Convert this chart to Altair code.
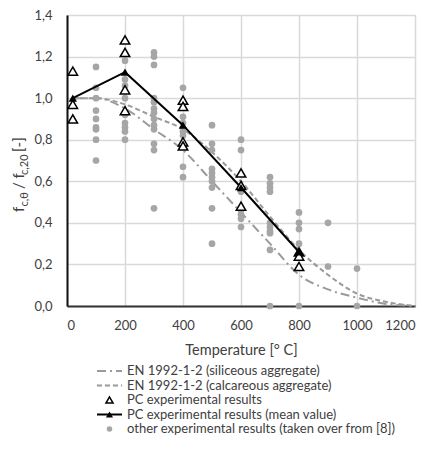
import altair as alt
import pandas as pd

# ---------------- data ----------------
en_temp = [20, 100, 200, 300, 400, 500, 600, 700, 800, 900, 1000, 1100, 1200]
en_siliceous = [1.0, 1.0, 0.95, 0.85, 0.75, 0.60, 0.45, 0.30, 0.15, 0.08, 0.04, 0.01, 0.0]
en_calcareous = [1.0, 1.0, 0.97, 0.91, 0.85, 0.74, 0.60, 0.43, 0.27, 0.15, 0.06, 0.02, 0.0]

pc_temp = [20, 20, 20, 200, 200, 200, 200, 400, 400, 400, 400, 600, 600, 600, 800, 800, 800]
pc_ratio = [1.13, 0.97, 0.90, 1.28, 1.22, 1.04, 0.94, 0.99, 0.96, 0.79, 0.77,
            0.64, 0.58, 0.48, 0.26, 0.24, 0.19]

mean_temp = [20, 200, 400, 600, 800]
mean_ratio = [1.0, 1.125, 0.87, 0.57, 0.26]

other_groups = {
    100: [1.15, 1.05, 1.00, 0.94, 0.90, 0.86, 0.85, 0.80, 0.70],
    200: [1.18, 1.09, 1.06, 1.00, 0.92, 0.88, 0.86, 0.84, 0.80],
    300: [1.22, 1.20, 1.16, 1.00, 0.98, 0.95, 0.93, 0.90, 0.87, 0.85, 0.78, 0.75, 0.47],
    400: [1.05, 0.91, 0.88, 0.84, 0.82, 0.67, 0.62],
    500: [0.87, 0.78, 0.75, 0.66, 0.64, 0.62, 0.60, 0.57, 0.47, 0.30],
    600: [0.80, 0.75, 0.55, 0.46, 0.44, 0.42, 0.38],
    700: [0.62, 0.59, 0.57, 0.55, 0.40, 0.38, 0.36, 0.35, 0.27, 0.00],
    800: [0.45, 0.40, 0.37, 0.30, 0.00],
    900: [0.40, 0.19],
    1000: [0.18, 0.00],
}

x_ticks = [0, 200, 400, 600, 800, 1000, 1200]
y_ticks = [0.0, 0.2, 0.4, 0.6, 0.8, 1.0, 1.2, 1.4]

legend_labels = [
    "EN 1992-1-2 (siliceous aggregate)",
    "EN 1992-1-2 (calcareous aggregate)",
    "PC experimental results",
    "PC experimental results (mean value)",
    "other experimental results (taken over from [8])",
]

# ---------------- tables ----------------
df_sil = pd.DataFrame({"T": en_temp, "r": en_siliceous})
df_cal = pd.DataFrame({"T": en_temp, "r": en_calcareous})
df_pc = pd.DataFrame({"T": pc_temp, "r": pc_ratio})
df_mean = pd.DataFrame({"T": mean_temp, "r": mean_ratio})
o_t, o_r = [], []
for t, vals in other_groups.items():
    for v in vals:
        o_t.append(t)
        o_r.append(v)
df_other = pd.DataFrame({"T": o_t, "r": o_r})
one = pd.DataFrame({"k": [0]})

FONT = "Lato"
TXT = "#404040"
GREY = "#a6a6a6"
LGREY = "#9a9a9a"

W, H = 348, 291

xs = alt.Scale(domain=[0, 1200], nice=False)
ys = alt.Scale(domain=[0, 1.4], nice=False)

x_axis = alt.Axis(values=x_ticks, format="d", title="Temperature [° C]", ticks=False,
                  labelPadding=13, titlePadding=11, grid=True, gridColor="#d9d9d9",
                  gridWidth=1.5, domainColor="#333333", domainWidth=2,
                  labelFont=FONT, labelFontSize=13, labelColor=TXT,
                  titleFont=FONT, titleFontSize=14.5, titleFontWeight="normal", titleColor=TXT)
y_axis = alt.Axis(values=y_ticks, labelExpr="replace(format(datum.value, '.1f'), '.', ',')",
                  title=None, ticks=False, labelPadding=15, grid=True, gridColor="#d9d9d9",
                  gridWidth=1.5, domainColor="#111111", domainWidth=2,
                  labelFont=FONT, labelFontSize=13, labelColor=TXT)

X = alt.X("T:Q", scale=xs, axis=x_axis)
Y = alt.Y("r:Q", scale=ys, axis=y_axis)
Xn = alt.X("T:Q", scale=xs)
Yn = alt.Y("r:Q", scale=ys)

sil = alt.Chart(df_sil).mark_line(interpolate="monotone", color=LGREY, strokeWidth=2,
                                  strokeDash=[9, 4, 2, 4]).encode(x=X, y=Y)
cal = alt.Chart(df_cal).mark_line(interpolate="monotone", color=LGREY, strokeWidth=2,
                                  strokeDash=[5, 3]).encode(x=Xn, y=Yn)
other = alt.Chart(df_other).mark_circle(size=45, color=GREY, opacity=1).encode(x=Xn, y=Yn)
mean_line = alt.Chart(df_mean).mark_line(color="black", strokeWidth=2).encode(x=Xn, y=Yn)
mean_pts = alt.Chart(df_mean).mark_point(shape="triangle-up", filled=True, color="black",
                                         size=70, opacity=1).encode(x=Xn, y=Yn)
pc_pts = alt.Chart(df_pc).mark_point(shape="triangle-up", filled=True, fill="white",
                                     stroke="black", strokeWidth=1.5, size=90,
                                     opacity=1).encode(x=Xn, y=Yn)

layers = [sil, cal, other, mean_line, pc_pts, mean_pts]

# ---------------- y axis title with subscripts ----------------
def vtext(txt, x, y, size):
    return alt.Chart(one).mark_text(angle=270, align="left", baseline="alphabetic",
                                    font=FONT, fontSize=size, color=TXT, text=txt).encode(
        x=alt.value(x), y=alt.value(y))

MX, SX = -43, -39
title_parts = [("f", MX, 197, 15), ("c,θ", SX, 191.5, 11), ("/ f", MX, 174, 15),
               ("c,20", SX, 160, 11), ("[-]", MX, 137, 15)]
for t, x, y, s in title_parts:
    layers.append(vtext(t, x, y, s))

# ---------------- legend ----------------
LY0, LDY = 356, 14.5
sx0, sx1, scx, tx = 30, 55, 42.5, 60

def lrule(y, dash=None, color=LGREY):
    kw = dict(color=color, strokeWidth=2)
    if dash:
        kw["strokeDash"] = dash
    return alt.Chart(one).mark_rule(**kw).encode(
        x=alt.value(sx0), x2=alt.value(sx1), y=alt.value(y))

for i, lab in enumerate(legend_labels):
    y = LY0 + i * LDY
    layers.append(alt.Chart(one).mark_text(align="left", baseline="middle", font=FONT,
                                           fontSize=13, color=TXT, text=lab).encode(
        x=alt.value(tx), y=alt.value(y)))

layers.append(lrule(LY0, [9, 4, 2, 4]))
layers.append(lrule(LY0 + LDY, [5, 3]))
layers.append(alt.Chart(one).mark_point(shape="triangle-up", filled=True, fill="white",
                                        stroke="black", strokeWidth=1.5, size=50,
                                        opacity=1).encode(
    x=alt.value(scx), y=alt.value(LY0 + 2 * LDY)))
layers.append(lrule(LY0 + 3 * LDY, None, "black"))
layers.append(alt.Chart(one).mark_point(shape="triangle-up", filled=True, color="black",
                                        size=50, opacity=1).encode(
    x=alt.value(scx), y=alt.value(LY0 + 3 * LDY)))
layers.append(alt.Chart(one).mark_circle(size=30, color=GREY, opacity=1).encode(
    x=alt.value(scx), y=alt.value(LY0 + 4 * LDY)))

chart = alt.layer(*layers).properties(
    width=W, height=H,
    autosize=alt.AutoSizeParams(type="none"),
    padding={"left": 59, "top": 7, "right": 7, "bottom": 145},
).configure_view(stroke="#222222", strokeWidth=1.5).configure(background="white")

chart.save("out.html", embed_options={"renderer": "svg", "actions": False})
